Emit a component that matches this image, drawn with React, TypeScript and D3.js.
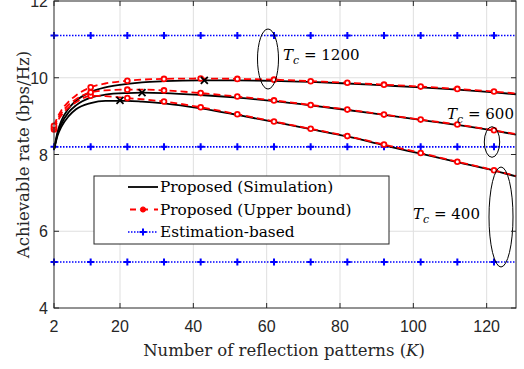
import React from 'react';
import * as d3 from 'd3';

// K grid shared by all curves
const kGrid = [2, 3, 4, 6, 8, 12, 16, 22, 26, 32, 42, 52, 62, 72, 82, 92, 102, 112, 122, 128];

// Proposed (Upper bound), red dashed
const ub1200 = [8.75, 8.98, 9.15, 9.38, 9.54, 9.75, 9.85, 9.92, 9.95, 9.97, 9.98, 9.97, 9.95, 9.91, 9.87, 9.82, 9.77, 9.71, 9.64, 9.59];
const ub600 = [8.7, 8.92, 9.08, 9.3, 9.44, 9.62, 9.67, 9.69, 9.69, 9.67, 9.6, 9.51, 9.41, 9.29, 9.17, 9.04, 8.91, 8.78, 8.63, 8.53];
const ub400 = [8.65, 8.87, 9.02, 9.23, 9.36, 9.53, 9.52, 9.47, 9.44, 9.38, 9.23, 9.05, 8.86, 8.67, 8.48, 8.26, 8.04, 7.81, 7.59, 7.44];

// Proposed (Simulation), black solid
const sim1200 = [8.12, 8.6, 8.88, 9.2, 9.4, 9.63, 9.75, 9.84, 9.88, 9.91, 9.93, 9.93, 9.92, 9.89, 9.85, 9.8, 9.75, 9.69, 9.62, 9.57];
const sim600 = [8.12, 8.55, 8.8, 9.1, 9.28, 9.48, 9.56, 9.6, 9.61, 9.6, 9.55, 9.48, 9.39, 9.28, 9.16, 9.03, 8.9, 8.77, 8.62, 8.52];
const sim400 = [8.12, 8.5, 8.72, 9.0, 9.18, 9.34, 9.4, 9.4, 9.38, 9.33, 9.2, 9.03, 8.85, 8.66, 8.47, 8.24, 8.02, 7.8, 7.58, 7.43];

// maxima of simulation curves (x markers)
const peakK = [20, 26, 43];
const peakRate = [9.41, 9.61, 9.93];

// Estimation-based, blue dotted (constant)
const estRate = [11.1, 8.2, 5.2];
const estK = [2, 128];

const xTicks = [2, 20, 40, 60, 80, 100, 120];
const yTicks = [4, 6, 8, 10, 12];

const W = 524, H = 369;
const margin = { left: 54, right: 8, top: 1, bottom: 61 };

export default function App() {
  const x = d3.scaleLinear().domain([2, 128]).range([margin.left, W - margin.right]);
  const y = d3.scaleLinear().domain([4, 12]).range([H - margin.bottom, margin.top]);

  const line = d3.line<number>()
    .x((d, i) => x(kGrid[i]))
    .y(d => y(d))
    .curve(d3.curveMonotoneX);

  const markerIdx = kGrid.map((k, i) => i).filter(i => (kGrid[i] - 2) % 10 === 0);
  const estMarkerK = d3.range(2, 128, 10);

  const serif = 'DejaVu Serif';
  const sans = 'Liberation Sans, Arial, sans-serif';
  const axisColor = '#262626';

  const plus = (cx: number, cy: number, key: string) => (
    <path key={key} d={`M${cx - 3.5},${cy}H${cx + 3.5}M${cx},${cy - 3.5}V${cy + 3.5}`} stroke="#0000ff" strokeWidth={2} />
  );

  const ubSeries = [ub400, ub600, ub1200];
  const simSeries = [sim400, sim600, sim1200];

  const legendRows = [
    { label: 'Proposed (Simulation)', kind: 'sim' },
    { label: 'Proposed (Upper bound)', kind: 'ub' },
    { label: 'Estimation-based', kind: 'est' },
  ];

  return (
    <svg width={W} height={H} style={{ position: 'absolute', left: 0, top: 0, background: '#fff' }}>
      <rect x={0} y={0} width={W} height={H} fill="#fff" />
      {/* grid */}
      {xTicks.filter(t => t !== 2).map(t => (
        <line key={'gx' + t} x1={x(t)} x2={x(t)} y1={y(4)} y2={y(12)} stroke="#dfdfdf" strokeWidth={1} />
      ))}
      {yTicks.filter(t => t !== 4 && t !== 12).map(t => (
        <line key={'gy' + t} x1={x(2)} x2={x(128)} y1={y(t)} y2={y(t)} stroke="#dfdfdf" strokeWidth={1} />
      ))}

      {/* estimation-based */}
      {estRate.map((r, j) => (
        <g key={'est' + j}>
          <line x1={x(estK[0])} x2={x(estK[1])} y1={y(r)} y2={y(r)} stroke="#0000ff" strokeWidth={1.6} strokeDasharray="1.5 1.5" />
          {estMarkerK.map(k => plus(x(k), y(r), 'p' + j + '-' + k))}
        </g>
      ))}

      {/* simulation */}
      {simSeries.map((s, j) => (
        <path key={'sim' + j} d={line(s) || ''} fill="none" stroke="#000" strokeWidth={1.8} />
      ))}

      {/* upper bound */}
      {ubSeries.map((s, j) => (
        <g key={'ub' + j}>
          <path d={line(s) || ''} fill="none" stroke="#ff0000" strokeWidth={1.8} strokeDasharray="7 4" />
          {markerIdx.map(i => (
            <circle key={i} cx={x(kGrid[i])} cy={y(s[i])} r={2.4} fill="#fff" stroke="#ff0000" strokeWidth={1.8} />
          ))}
        </g>
      ))}

      {/* peaks */}
      {peakK.map((k, i) => {
        const cx = x(k), cy = y(peakRate[i]);
        return <path key={'pk' + i} d={`M${cx - 3.5},${cy - 3.5}L${cx + 3.5},${cy + 3.5}M${cx - 3.5},${cy + 3.5}L${cx + 3.5},${cy - 3.5}`} stroke="#000" strokeWidth={1.8} />;
      })}

      {/* annotations */}
      <ellipse cx={268} cy={59} rx={10.5} ry={30} fill="none" stroke="#000" strokeWidth={1} />
      <text x={283} y={60} fontFamily={serif} fontSize={15} fill="#000">
        <tspan fontStyle="italic">T</tspan><tspan fontStyle="italic" fontSize={11} dy={4}>c</tspan><tspan dy={-4}> = 1200</tspan>
      </text>
      <ellipse cx={492} cy={142} rx={7.7} ry={15.3} fill="none" stroke="#000" strokeWidth={1} />
      <text x={447} y={119} fontFamily={serif} fontSize={15} fill="#000">
        <tspan fontStyle="italic">T</tspan><tspan fontStyle="italic" fontSize={11} dy={4}>c</tspan><tspan dy={-4}> = 600</tspan>
      </text>
      <ellipse cx={501} cy={217} rx={12} ry={50} fill="none" stroke="#000" strokeWidth={1} />
      <text x={413} y={219} fontFamily={serif} fontSize={15} fill="#000">
        <tspan fontStyle="italic">T</tspan><tspan fontStyle="italic" fontSize={11} dy={4}>c</tspan><tspan dy={-4}> = 400</tspan>
      </text>

      {/* axes box */}
      <rect x={x(2)} y={y(12)} width={x(128) - x(2)} height={y(4) - y(12)} fill="none" stroke={axisColor} strokeWidth={1} />
      {xTicks.map(t => (
        <g key={'xt' + t}>
          <line x1={x(t)} x2={x(t)} y1={y(4)} y2={y(4) - 5} stroke={axisColor} />
          <line x1={x(t)} x2={x(t)} y1={y(12)} y2={y(12) + 5} stroke={axisColor} />
          <text x={x(t)} y={y(4) + 24} textAnchor="middle" fontFamily={sans} fontSize={16} fill={axisColor}>{t}</text>
        </g>
      ))}
      {yTicks.map(t => (
        <g key={'yt' + t}>
          <line x1={x(2)} x2={x(2) + 5} y1={y(t)} y2={y(t)} stroke={axisColor} />
          <line x1={x(128)} x2={x(128) - 5} y1={y(t)} y2={y(t)} stroke={axisColor} />
          <text x={x(2) - 6} y={y(t) + 6} textAnchor="end" fontFamily={sans} fontSize={16} fill={axisColor}>{t}</text>
        </g>
      ))}

      {/* legend */}
      <rect x={94} y={176} width={295} height={68} fill="#fff" stroke={axisColor} strokeWidth={1} />
      {legendRows.map((row, i) => {
        const ly = 187 + i * 22.5;
        return (
          <g key={'lg' + i}>
            {row.kind === 'sim' && <line x1={128} x2={158} y1={ly} y2={ly} stroke="#000" strokeWidth={1.8} />}
            {row.kind === 'ub' && (
              <g>
                <line x1={128} x2={158} y1={ly} y2={ly} stroke="#ff0000" strokeWidth={1.8} strokeDasharray="6 6" strokeDashoffset={-2} />
                <circle cx={143} cy={ly} r={2.6} fill="#ff0000" stroke="#ff0000" />
              </g>
            )}
            {row.kind === 'est' && (
              <g>
                <line x1={128} x2={158} y1={ly} y2={ly} stroke="#0000ff" strokeWidth={1.6} strokeDasharray="1.5 1.5" />
                {plus(143, ly, 'lp')}
              </g>
            )}
            <text x={160} y={ly + 5} fontFamily={serif} fontSize={15.3} fill="#000">{row.label}</text>
          </g>
        );
      })}

      {/* axis labels */}
      <text x={284} y={356} textAnchor="middle" fontFamily={serif} fontSize={16.5} fill={axisColor}>
        Number of reflection patterns (<tspan fontStyle="italic">K</tspan>)
      </text>
      <text transform={`translate(29,${(y(4) + y(12)) / 2}) rotate(-90)`} textAnchor="middle" fontFamily={serif} fontSize={16.5} fill={axisColor}>
        Achievable rate (bps/Hz)
      </text>
    </svg>
  );
}
